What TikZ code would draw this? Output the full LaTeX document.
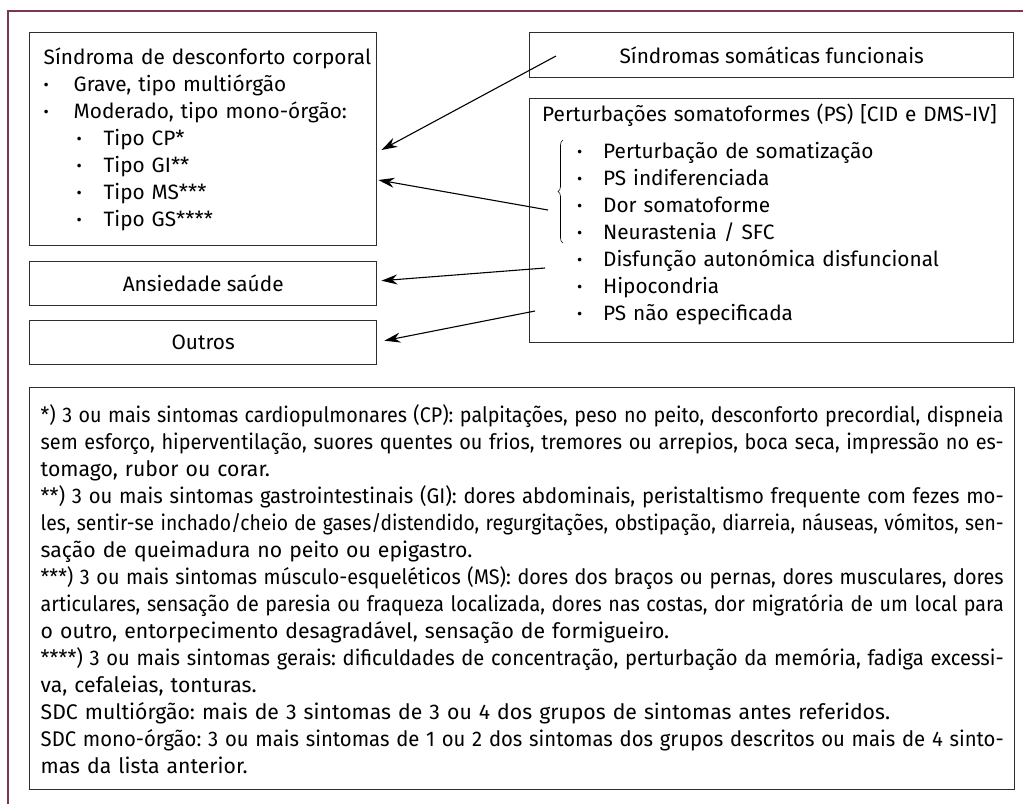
\documentclass[tikz,border=0pt]{standalone}
\usepackage{fontspec}
\usepackage{graphicx}
\setmainfont{Fira Sans}
\usetikzlibrary{calc,arrows.meta,decorations.pathreplacing}
\definecolor{framecol}{HTML}{7D3556}
\definecolor{boxline}{HTML}{2E2E2E}
\frenchspacing
\newcommand{\Bul}[1][30pt]{\makebox[#1][l]{\raisebox{1pt}{\fontsize{16}{16}\selectfont\textbullet}}}
\newlength{\NoteW}
\setlength{\NoteW}{963pt}
\newcommand{\Jl}[1]{\leavevmode\sbox0{#1}%
  \ifdim\wd0>\NoteW \resizebox{\NoteW}{\height}{#1}\else\hbox to \NoteW{#1}\fi}
\tikzset{Box/.style={
    draw=boxline,
    line width=1.4pt,
    inner sep=0pt,
    anchor=north west,
    },
  List/.style={
    inner sep=0pt,
    anchor=north west,
    align=left,
    },
  Arr/.style={-{Stealth[length=16pt,width=10pt]}, line width=1.1pt},
}

\begin{document}
\begin{tikzpicture}[x=1pt, y=-1pt,
    font=\fontsize{20.8}{27}\selectfont,
]
\useasboundingbox (0,0) rectangle (1023,804);
\draw[framecol, line width=1.5pt] (8,804) -- (8,11) -- (1023,11);

% left column
\node[Box, minimum width=347pt, minimum height=213pt, inner xsep=14pt,
    text width=319pt, align=left] (sdc) at (29,32) {%
    \mbox{Síndroma de desconforto corporal}\\
    \Bul Grave, tipo multiórgão\\
    \Bul Moderado, tipo mono-órgão:\\
    \hspace*{33pt}\Bul[27pt]Tipo CP*\\
    \hspace*{33pt}\Bul[27pt]Tipo GI**\\
    \hspace*{33pt}\Bul[27pt]Tipo MS***\\
    \hspace*{33pt}\Bul[27pt]Tipo GS****};
\node[Box, minimum width=347pt, minimum height=44pt] (ans) at (29,261) {Ansiedade saúde};
\node[Box, minimum width=347pt, minimum height=44pt] (out) at (29,320) {Outros};

% right column
\node[Box, minimum width=484pt, minimum height=45pt] (ssf) at (529,32) {Síndromas somáticas funcionais};
\node[Box, minimum width=484pt, minimum height=244pt] (ps) at (529,98) {};
\node[List, text width=458pt] (pslist) at ($(ps.north west)+(13,6)$) {%
    Perturbações somatoformes (PS) [CID e DMS-IV]\\[10pt]
    \hspace*{35pt}\Bul[26pt]Perturbação de somatização\\
    \hspace*{35pt}\Bul[26pt]PS indiferenciada\\
    \hspace*{35pt}\Bul[26pt]Dor somatoforme\\
    \hspace*{35pt}\Bul[26pt]Neurastenia / SFC\\
    \hspace*{35pt}\Bul[26pt]Disfunção autonómica disfuncional\\
    \hspace*{35pt}\Bul[26pt]Hipocondria\\
    \hspace*{35pt}\Bul[26pt]PS não especificada};
\draw[line width=0.6pt, decorate, decoration={brace, amplitude=5pt}]
    ($(ps.north west)+(34,145)$) -- ($(ps.north west)+(34,42)$);

% arrows
\coordinate (s1) at ($(ssf.north west)+(27,24)$);
\coordinate (t1) at ($(sdc.north east)+(4,118)$);
\coordinate (s2) at ($(ps.north west)+(19,112)$);
\coordinate (t2) at ($(sdc.north east)+(1,148)$);
\coordinate (s3) at ($(ps.north west)+(16,170)$);
\coordinate (t3) at ($(ans.east)+(4,-3)$);
\coordinate (s4) at ($(ps.north west)+(6,213)$);
\coordinate (t4) at ($(out.east)+(7,-2)$);
\draw[Arr] (s1) -- (t1);
\draw[Arr] (s2) -- (t2);
\draw[Arr] (s3) -- (t3);
\draw[Arr] (s4) -- (t4);

% notes
\node[Box, minimum width=985pt, minimum height=402pt, inner xsep=11pt,
    text width=963pt, align=left, font=\fontsize{21.2}{27}\selectfont] (notes) at (29,387) {%
    \Jl{*) 3 ou mais sintomas cardiopulmonares (CP): palpitações, peso no peito, desconforto precordial, dispneia}\\
    \Jl{sem esforço, hiperventilação, suores quentes ou frios, tremores ou arrepios, boca seca, impressão no es-}\\
    tomago, rubor ou corar.\\
    \Jl{**) 3 ou mais sintomas gastrointestinais (GI): dores abdominais, peristaltismo frequente com fezes mo-}\\
    \Jl{les, sentir-se inchado/cheio de gases/distendido, regurgitações, obstipação, diarreia, náuseas, vómitos, sen-}\\
    sação de queimadura no peito ou epigastro.\\
    \Jl{***) 3 ou mais sintomas músculo-esqueléticos (MS): dores dos braços ou pernas, dores musculares, dores}\\
    \Jl{articulares, sensação de paresia ou fraqueza localizada, dores nas costas, dor migratória de um local para}\\
    o outro, entorpecimento desagradável, sensação de formigueiro.\\
    \Jl{****) 3 ou mais sintomas gerais: dificuldades de concentração, perturbação da memória, fadiga excessi-}\\
    va, cefaleias, tonturas.\\
    SDC multiórgão: mais de 3 sintomas de 3 ou 4 dos grupos de sintomas antes referidos.\\
    \Jl{SDC mono-órgão: 3 ou mais sintomas de 1 ou 2 dos sintomas dos grupos descritos ou mais de 4 sinto-}\\
    mas da lista anterior.};
\end{tikzpicture}
\end{document}
